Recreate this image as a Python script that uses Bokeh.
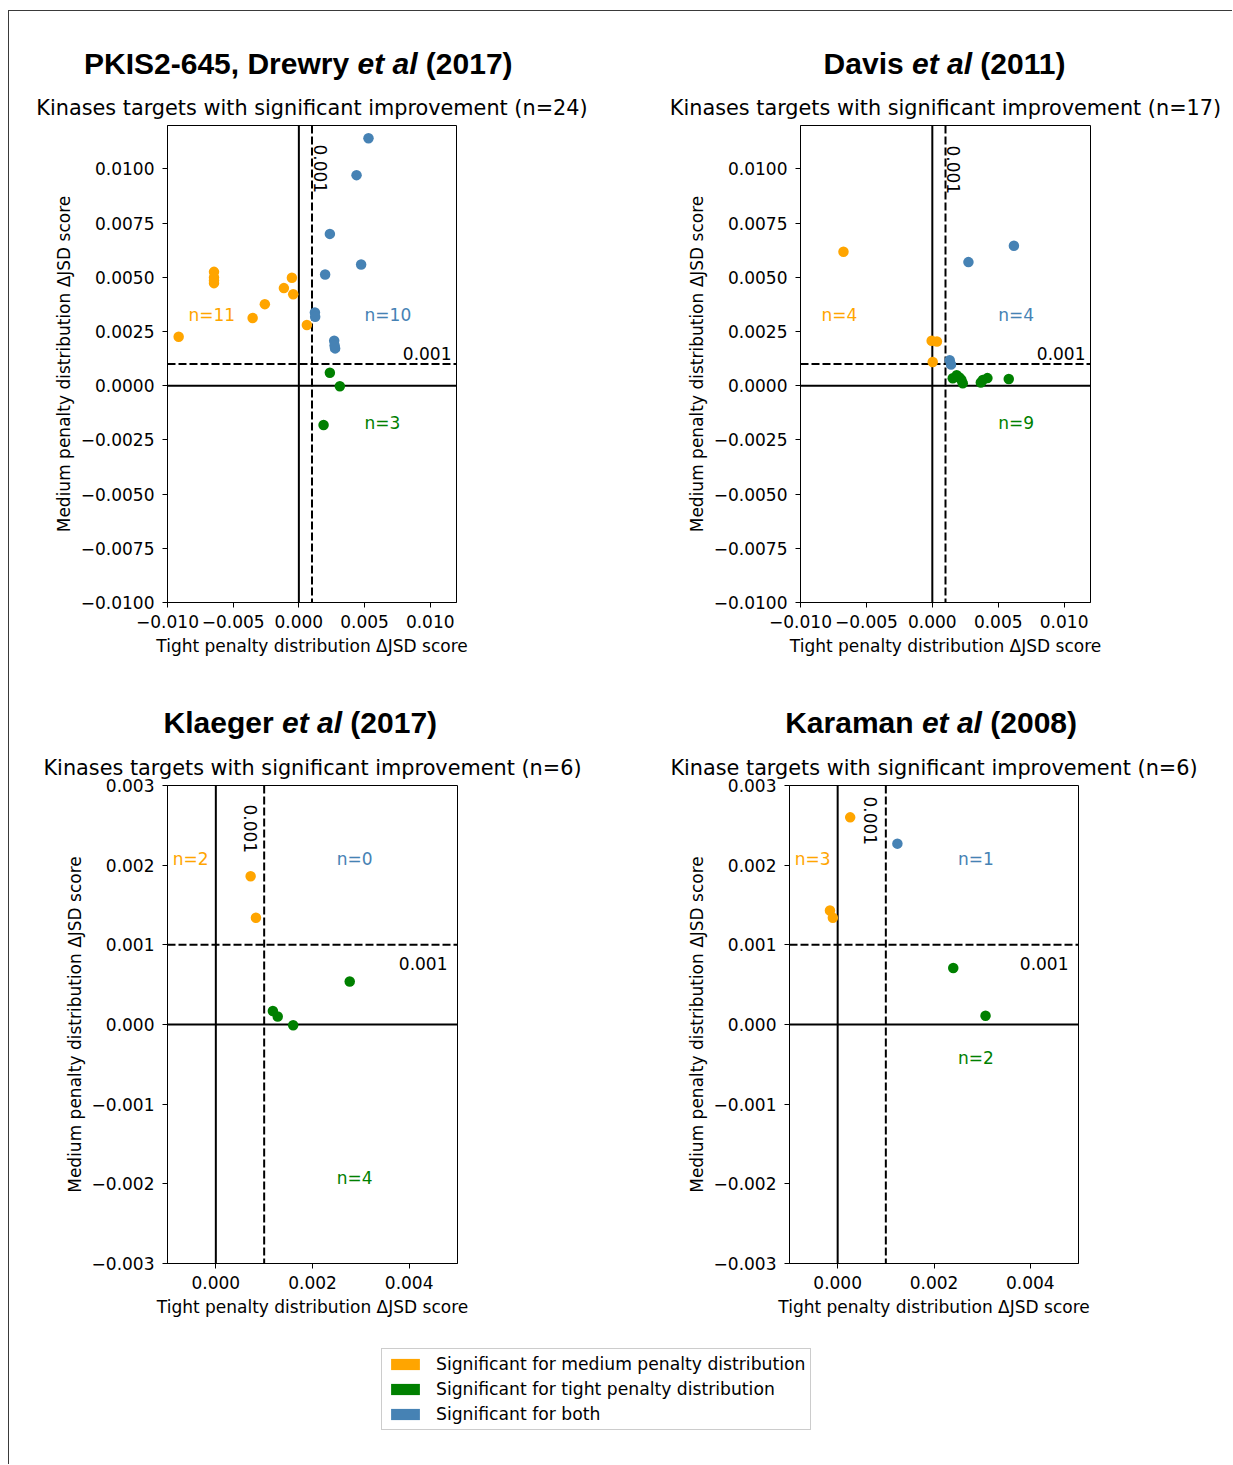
import math
from bokeh.plotting import figure
from bokeh.models import Range1d, FixedTicker, Span, Label, Legend, LegendItem
from bokeh.layouts import column, row
from bokeh.embed import file_html
from bokeh.resources import INLINE

# ------------------------------------------------------------------ data
THRESHOLD = 0.001

categories = ["Significant for medium penalty distribution",
              "Significant for tight penalty distribution",
              "Significant for both"]

# PKIS2-645, Drewry et al (2017)
pkis_medium_x = [-0.00915, -0.00646, -0.00646, -0.00646, -0.00646, -0.00352, -0.00259,
                 -0.00114, -0.00053, -0.00043, 0.00061]
pkis_medium_y = [0.00226, 0.00525, 0.00499, 0.00485, 0.00473, 0.00312, 0.00376,
                 0.00450, 0.00498, 0.00422, 0.00280]
pkis_both_x = [0.00530, 0.00439, 0.00236, 0.00474, 0.00200, 0.00122, 0.00124, 0.00269, 0.00276, 0.00272]
pkis_both_y = [0.01141, 0.00971, 0.00700, 0.00559, 0.00513, 0.00338, 0.00318, 0.00207, 0.00172, 0.00185]
pkis_tight_x = [0.00236, 0.00312, 0.00188]
pkis_tight_y = [0.00060, -0.00003, -0.00181]

# Davis et al (2011)
davis_medium_x = [-0.00674, -0.00005, 0.00035, 0.00003]
davis_medium_y = [0.00618, 0.00207, 0.00204, 0.00109]
davis_both_x = [0.00619, 0.00274, 0.00132, 0.00142]
davis_both_y = [0.00645, 0.00570, 0.00117, 0.00098]
davis_tight_x = [0.00155, 0.00185, 0.00205, 0.00220, 0.00231, 0.00368, 0.00383, 0.00418, 0.00580]
davis_tight_y = [0.00034, 0.00048, 0.00038, 0.00028, 0.00011, 0.00015, 0.00026, 0.00035, 0.00031]

# Klaeger et al (2017)
klaeger_medium_x = [0.00072, 0.00083]
klaeger_medium_y = [0.00186, 0.00134]
klaeger_both_x = []
klaeger_both_y = []
klaeger_tight_x = [0.00277, 0.00118, 0.00128, 0.00160]
klaeger_tight_y = [0.00054, 0.00017, 0.00010, -0.00001]

# Karaman et al (2008)
karaman_medium_x = [0.00026, -0.00016, -0.00010]
karaman_medium_y = [0.00260, 0.00143, 0.00134]
karaman_both_x = [0.00124]
karaman_both_y = [0.00227]
karaman_tight_x = [0.00240, 0.00307]
karaman_tight_y = [0.00071, 0.00011]

# titles
pkis_title = ["PKIS2-645, Drewry", "et al", "(2017)"]
davis_title = ["Davis", "et al", "(2011)"]
klaeger_title = ["Klaeger", "et al", "(2017)"]
karaman_title = ["Karaman", "et al", "(2008)"]
subtitle_word = ["Kinases", "Kinases", "Kinases", "Kinase"]

# ticks
wide_ticks_x = [-0.010, -0.005, 0.0, 0.005, 0.010]
wide_tick_labels_x = ["\u22120.010", "\u22120.005", "0.000", "0.005", "0.010"]
wide_ticks_y = [-0.0100, -0.0075, -0.0050, -0.0025, 0.0, 0.0025, 0.0050, 0.0075, 0.0100]
wide_tick_labels_y = ["\u22120.0100", "\u22120.0075", "\u22120.0050", "\u22120.0025", "0.0000",
                      "0.0025", "0.0050", "0.0075", "0.0100"]
narrow_ticks_x = [0.0, 0.002, 0.004]
narrow_tick_labels_x = ["0.000", "0.002", "0.004"]
narrow_ticks_y = [-0.003, -0.002, -0.001, 0.0, 0.001, 0.002, 0.003]
narrow_tick_labels_y = ["\u22120.003", "\u22120.002", "\u22120.001", "0.000", "0.001", "0.002", "0.003"]

wide_range = (-0.010, 0.012)
narrow_x_range = (-0.001, 0.005)
narrow_y_range = (-0.003, 0.003)

# ------------------------------------------------------------------ style
C_MED = "orange"
C_TIGHT = "green"
C_BOTH = "steelblue"
FONT = "DejaVu Sans"
TFONT = "Liberation Sans"
BASE_CORR = 0.35   # empirical shift of Bokeh's alphabetic baseline, in em


def bare_fig(w, h):
    f = figure(width=w, height=h, x_range=Range1d(0, w), y_range=Range1d(0, h),
               x_axis_location=None, y_axis_location=None, toolbar_location=None,
               min_border=0, outline_line_color=None, output_backend="svg")
    f.xgrid.visible = False
    f.ygrid.visible = False
    return f


def add_title(t, x0, y0, h, title, etal_left, base):
    fs = 30
    space = 0.278 * fs
    etal_w = 2.001 * fs
    y = h - (base - BASE_CORR * fs - y0)
    xl = etal_left - x0
    common = dict(y=y, text_font=TFONT, text_font_size=f"{fs}px", text_color="black",
                  text_baseline="alphabetic")
    t.add_layout(Label(x=xl - space, text=title[0], text_font_style="bold", text_align="right", **common))
    t.add_layout(Label(x=xl, text=title[1], text_font_style="bold italic", text_align="left", **common))
    t.add_layout(Label(x=xl + etal_w + space, text=title[2], text_font_style="bold",
                       text_align="left", **common))


def make_panel(fig_x0, fig_y0, fig_w, fig_h, left, top, fw, fh, xr, yr,
               xt, xtl, yt, ytl, med, both, tight, sub_word, n_pos, vlab, hlab):
    p = figure(frame_width=fw, frame_height=fh,
               min_border_left=left - fig_x0, min_border_top=top - fig_y0,
               min_border_right=fig_x0 + fig_w - (left + fw),
               min_border_bottom=fig_y0 + fig_h - (top + fh),
               x_range=Range1d(*xr), y_range=Range1d(*yr),
               toolbar_location=None, output_backend="svg")
    p.outline_line_color = "black"
    p.outline_line_width = 1
    p.outline_line_alpha = 1
    p.xgrid.visible = False
    p.ygrid.visible = False

    def px2x(px):
        return xr[0] + (px - left) / fw * (xr[1] - xr[0])

    def py2y(py):
        return yr[1] - (py - top) / fh * (yr[1] - yr[0])

    for ax, ticks, labels, lab, std, astd in (
            (p.xaxis[0], xt, xtl, "Tight penalty distribution \u0394JSD score", 7, 5),
            (p.yaxis[0], yt, ytl, "Medium penalty distribution \u0394JSD score", 8, 4)):
        ax.ticker = FixedTicker(ticks=ticks)
        ax.major_label_overrides = {t: l for t, l in zip(ticks, labels)}
        ax.minor_tick_line_color = None
        ax.major_tick_in = 0
        ax.major_tick_out = 5
        ax.major_tick_line_width = 1
        ax.axis_line_color = "black"
        ax.major_label_text_font = FONT
        ax.major_label_text_font_size = "17px"
        ax.major_label_text_color = "black"
        ax.major_label_standoff = std
        ax.axis_label = lab
        ax.axis_label_text_font = FONT
        ax.axis_label_text_font_size = "17px"
        ax.axis_label_text_font_style = "normal"
        ax.axis_label_text_color = "black"
        ax.axis_label_standoff = astd

    # reference lines
    for loc, dim, dash in ((0.0, "height", "solid"), (0.0, "width", "solid"),
                           (THRESHOLD, "height", "8 3"), (THRESHOLD, "width", "8 3")):
        p.add_layout(Span(location=loc, dimension=dim, line_color="black",
                          line_width=2, line_dash=dash, level="underlay"))

    # points
    for (xs, ys), c in ((med, C_MED), (tight, C_TIGHT), (both, C_BOTH)):
        if len(xs):
            p.scatter(xs, ys, size=10.5, fill_color=c, line_color=None)

    fs = 17
    corr = BASE_CORR * fs
    # n= labels (data positions of baselines)
    counts = [len(med[0]), len(both[0]), len(tight[0])]
    dy_corr = corr / fh * (yr[1] - yr[0])
    for (nx, ny), cnt, c in zip(n_pos, counts, (C_MED, C_BOTH, C_TIGHT)):
        p.add_layout(Label(x=nx, y=ny + dy_corr, text=f"n={cnt}", text_color=c, text_font=FONT,
                           text_font_size=f"{fs}px", text_align="left", text_baseline="alphabetic"))

    # threshold annotations
    vx, vy = vlab
    p.add_layout(Label(x=px2x(vx + corr), y=py2y(vy), text=f"{THRESHOLD:.3f}", angle=-math.pi / 2,
                       text_font=FONT, text_font_size=f"{fs}px", text_color="black",
                       text_align="left", text_baseline="alphabetic"))
    hx, hy = hlab
    p.add_layout(Label(x=px2x(hx), y=py2y(hy - corr), text=f"{THRESHOLD:.3f}",
                       text_font=FONT, text_font_size=f"{fs}px", text_color="black",
                       text_align="right", text_baseline="alphabetic"))

    # subtitle
    total = sum(counts)
    p.title.text = f"{sub_word} targets with significant improvement (n={total})"
    p.title.align = "center"
    p.title.text_font = FONT
    p.title.text_font_size = "20.8px"
    p.title.text_font_style = "normal"
    p.title.text_color = "black"
    p.title.standoff = 11
    return p


OX, OY = 9, 11          # content origin on the page
XM = 613                # column split
XR = 1232               # right edge
Y1, Y2, Y3, Y4 = 88, 680, 745, 1330
YEND = 1464
W = XR - OX

# main titles (full-width text strips)
tTop = bare_fig(W, Y1 - OY)
add_title(tTop, OX, OY, Y1 - OY, pkis_title, 357, 73.5)
add_title(tTop, OX, OY, Y1 - OY, davis_title, 911.5, 73.5)
tBot = bare_fig(W, Y3 - Y2)
add_title(tBot, OX, Y2, Y3 - Y2, klaeger_title, 281.5, 732.5)
add_title(tBot, OX, Y2, Y3 - Y2, karaman_title, 921.4, 732.5)

pA = make_panel(OX, Y1, XM - OX, Y2 - Y1, 167, 125, 289, 477, wide_range, wide_range,
                wide_ticks_x, wide_tick_labels_x, wide_ticks_y, wide_tick_labels_y,
                (pkis_medium_x, pkis_medium_y), (pkis_both_x, pkis_both_y), (pkis_tight_x, pkis_tight_y),
                subtitle_word[0],
                [(-0.0084, 0.003), (0.005, 0.003), (0.005, -0.002)],
                (314.5, 144), (451, 359))
pB = make_panel(XM, Y1, XR - XM, Y2 - Y1, 800, 125, 290, 477, wide_range, wide_range,
                wide_ticks_x, wide_tick_labels_x, wide_ticks_y, wide_tick_labels_y,
                (davis_medium_x, davis_medium_y), (davis_both_x, davis_both_y), (davis_tight_x, davis_tight_y),
                subtitle_word[1],
                [(-0.0084, 0.003), (0.005, 0.003), (0.005, -0.002)],
                (947.5, 145), (1085, 359))
pC = make_panel(OX, Y3, XM - OX, Y4 - Y3, 167, 785, 290, 478, narrow_x_range, narrow_y_range,
                narrow_ticks_x, narrow_tick_labels_x, narrow_ticks_y, narrow_tick_labels_y,
                (klaeger_medium_x, klaeger_medium_y), (klaeger_both_x, klaeger_both_y),
                (klaeger_tight_x, klaeger_tight_y),
                subtitle_word[2],
                [(-0.00089, 0.002), (0.0025, 0.002), (0.0025, -0.002)],
                (244.5, 804), (447, 968.5))
pD = make_panel(XM, Y3, XR - XM, Y4 - Y3, 789, 785, 289, 478, narrow_x_range, narrow_y_range,
                narrow_ticks_x, narrow_tick_labels_x, narrow_ticks_y, narrow_tick_labels_y,
                (karaman_medium_x, karaman_medium_y), (karaman_both_x, karaman_both_y),
                (karaman_tight_x, karaman_tight_y),
                subtitle_word[3],
                [(-0.00089, 0.002), (0.0025, 0.002), (0.0025, -0.0005)],
                (864.5, 796), (1068, 968.5))

# legend panel
pL = bare_fig(W, YEND - Y4)
items = []
for lab, c in zip(categories, (C_MED, C_TIGHT, C_BOTH)):
    # zero-size proxy glyph: only its legend patch is visible
    r = pL.quad(left=[0], right=[0], top=[0], bottom=[0], fill_color=c, line_color=None)
    items.append(LegendItem(label=lab, renderers=[r]))
legend = Legend(items=items, location=(381 - OX, YEND - 1430), padding=5, spacing=5,
                glyph_width=36, glyph_height=14, label_height=18, label_standoff=13,
                label_text_font=FONT, label_text_font_size="17.2px", label_text_color="black",
                border_line_color="#cccccc", border_line_width=1, border_line_alpha=1,
                background_fill_color="white", background_fill_alpha=1, margin=0)
pL.add_layout(legend)

layout = column(tTop, row(pA, pB), tBot, row(pC, pD), pL,
                margin=(10, 0, 0, 8),
                styles={"border-top": "1px solid #3a3a3a", "border-left": "1px solid #3a3a3a"})

open("out.html", "w").write(file_html(layout, INLINE))
